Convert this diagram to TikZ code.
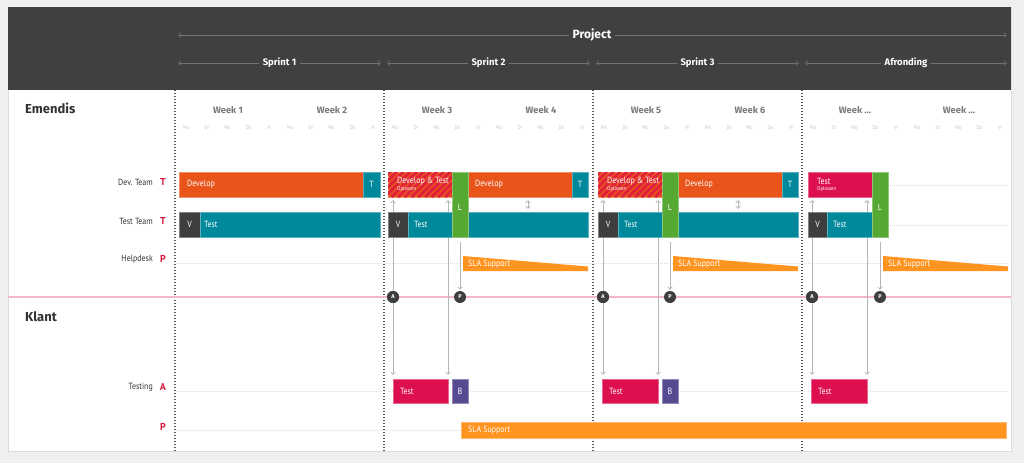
\documentclass[tikz,border=0pt]{standalone}
\usepackage{fontspec}
\setmainfont{PT Sans}
\newfontfamily\hfont{Fira Sans}
\newfontfamily\cfont[FakeStretch=0.88]{PT Sans}
\usetikzlibrary{arrows.meta,fit}
\definecolor{bgc}{HTML}{EFEFEF}
\definecolor{hdr}{HTML}{404040}
\definecolor{hline}{HTML}{727272}
\definecolor{devc}{HTML}{E8541A}
\definecolor{stripec}{HTML}{E0203C}
\definecolor{tealc}{HTML}{00889B}
\definecolor{vdark}{HTML}{3E3E3E}
\definecolor{lgreen}{HTML}{55A832}
\definecolor{crim}{HTML}{DC0F4F}
\definecolor{purp}{HTML}{584A90}
\definecolor{slac}{HTML}{FF9421}
\definecolor{pinkl}{HTML}{F4B6C9}
\definecolor{redl}{HTML}{DC143C}
\definecolor{connc}{HTML}{B5B5B5}
\definecolor{guide}{HTML}{DCDCDC}
\definecolor{dayc}{HTML}{C4C4C4}
\definecolor{weekc}{HTML}{7A7A7A}
\definecolor{divc}{HTML}{555555}
\definecolor{txtc}{HTML}{333333}
\newcommand\gb[6]{\node[blk=#6, fit={(#2,#3) (#4,#5)}] (#1) {};}
\newcommand\stripes[1]{\begin{scope}\clip (#1.north west) rectangle (#1.south east);
  \foreach \k in {0,...,16} \draw[stripec, line width=2.9pt] ([xshift=\k*6.7pt-30pt]#1.south west) -- ++(40,-40);
  \end{scope}}
\begin{document}
\begin{tikzpicture}[x=1pt,y=-1pt,
  blk/.style={inner sep=0pt, outer sep=0pt, fill=#1, draw=#1!65!white, line width=0.5pt},
  bt/.style={text=white, font=\cfont\fontsize{9}{10}\selectfont, inner sep=0pt, anchor=west},
  st/.style={text=white, font=\cfont\fontsize{5.5}{6}\selectfont, inner sep=0pt, anchor=west},
  ct/.style={text=white, font=\cfont\fontsize{9}{10}\selectfont, inner sep=0pt},
  rowlbl/.style={anchor=east, text=txtc, font=\cfont\fontsize{9}{10}\selectfont, inner sep=0pt},
  rk/.style={text=redl, font=\bfseries\fontsize{10}{11}\selectfont, inner sep=0pt},
  conn/.style={draw=connc, line width=0.7pt, {Straight Barb[length=2.5pt,width=4.5pt]}-{Straight Barb[length=2.5pt,width=4.5pt]}},
  harr/.style={draw=hline, line width=0.6pt, {Straight Barb[length=2.5pt,width=4.5pt]}-{Straight Barb[length=2.5pt,width=4.5pt]}},
  htitle/.style={fill=hdr, text=white, inner xsep=4pt, inner ysep=1pt, font=\hfont\bfseries\fontsize{#1}{#1}\selectfont},
  guideline/.style={draw=guide, line width=0.6pt, dash pattern=on 1pt off 1pt},
  divider/.style={draw=divc, line width=1.1pt, dash pattern=on 1.1pt off 1.9pt},
  badge/.style={circle, fill=vdark, text=white, inner sep=0pt, minimum size=12pt, font=\hfont\bfseries\fontsize{5.5}{6}\selectfont},
  day/.style={text=dayc, font=\cfont\fontsize{5.5}{6}\selectfont, inner sep=0pt},
  week/.style={text=weekc, font=\hfont\bfseries\fontsize{9.3}{10}\selectfont, inner sep=0pt},
  sect/.style={anchor=west, text=txtc, font=\hfont\bfseries\fontsize{13}{14}\selectfont, inner sep=0pt}
]
\useasboundingbox (0,0) rectangle (1024,463);
\fill[bgc] (0,0) rectangle (1024,463);
\filldraw[fill=white, draw=guide, line width=0.6pt] (8,7) rectangle (1011,451);
\fill[hdr] (8,7) rectangle (1011,90);
% header arrows
\coordinate (pl) at (178,35); \coordinate (pr) at (1007,35);
\draw[harr] (pl) -- (pr);
\node[htitle=12] (project) at (592,35) {Project};
\foreach \a/\b/\t [count=\n] in {178/381/Sprint 1, 387/590/Sprint 2, 596/799/Sprint 3, 805/1007/Afronding}{
  \coordinate (sl\n) at (\a,63); \coordinate (sr\n) at (\b,63);
  \draw[harr] (sl\n) -- (sr\n);
  \node[htitle=9.5] (sp\n) at ({(\a+\b)/2},63) {\t};
}
% sections
\node[sect] (emendis) at (25,108) {Emendis};
\node[sect] (klant) at (25,317) {Klant};
% weeks and days
\foreach \s/\wa/\wb [count=\n] in {175/Week 1/Week 2, 384/Week 3/Week 4, 593/Week 5/Week 6, 802/Week \dots/Week \dots}{
  \node[week] (wa\n) at (\s+53,110) {\wa};
  \node[week] (wb\n) at (\s+157,110) {\wb};
  \foreach \d [count=\i from 0] in {Ma,Di,Wo,Do,Vr,Ma,Di,Wo,Do,Vr}
    \node[day] (d\n-\i) at (\s+11+20.8*\i,128) {\d};
}
% guide lines
\foreach \y in {185,225,263,391,430} \draw[guideline] (176,\y) -- (1007,\y);
% dividers
\foreach \x in {175,384,593,802} \draw[divider] (\x,90) -- (\x,451);
% pink line
\draw[pinkl, line width=1.4pt] (8,297) -- (1011,297);
% row labels
\node[rowlbl] (ldev) at (153,182) {Dev. Team}; \node[rk] (rdev) at (163,182) {T};
\node[rowlbl] (ltest) at (153,221) {Test Team}; \node[rk] (rtest) at (163,221) {T};
\node[rowlbl] (lhelp) at (153,259) {Helpdesk}; \node[rk] (rhelp) at (163,259) {P};
\node[rowlbl] (lkt) at (153,387) {Testing}; \node[rk] (rkt) at (163,387) {A};
\node[rk] (rkp) at (163,427) {P};
% badges (positions)
\node[badge] (a2) at (393,297) {A}; \node[badge] (p2) at (460,297) {P};
\node[badge] (a3) at (603,297) {A}; \node[badge] (p3) at (670,297) {P};
\node[badge] (a4) at (812,297) {A}; \node[badge] (p4) at (880,297) {P};
% klant boxes
\gb{kt2}{393}{379}{448}{403}{crim} \gb{b2}{452}{379}{468}{403}{purp}
\gb{kt3}{602}{379}{658}{403}{crim} \gb{b3}{662}{379}{678}{403}{purp}
\gb{kt4}{811}{379}{867}{403}{crim}
\node[bt] (kt2t) at ([xshift=7pt]kt2.west) {Test};
\node[bt] (kt3t) at ([xshift=7pt]kt3.west) {Test};
\node[bt] (kt4t) at ([xshift=7pt]kt4.west) {Test};
\node[ct] (b2t) at (b2) {B}; \node[ct] (b3t) at (b3) {B};
\gb{slak}{461}{422}{1006}{438}{slac}
\node[bt] (slakt) at ([xshift=7pt]slak.west) {SLA Support};
% Emendis bars: sprint 1
\gb{dv1}{179}{172}{363}{197}{devc} \gb{t1}{363}{172}{380}{197}{tealc}
\gb{v1}{179}{212}{200}{237}{vdark} \gb{tt1}{200}{212}{380}{237}{tealc}
% sprint 2
\gb{st2}{388}{172}{452}{197}{devc}
\gb{dv2}{468}{172}{572}{197}{devc} \gb{t2}{572}{172}{588}{197}{tealc}
\gb{tb2}{468}{212}{588}{237}{tealc}
% sprint 3
\gb{st3}{598}{172}{662}{197}{devc}
\gb{dv3}{678}{172}{782}{197}{devc} \gb{t3}{782}{172}{798}{197}{tealc}
\gb{tb3}{678}{212}{798}{237}{tealc}
% sprint 4
\gb{ts4}{808}{172}{872}{197}{crim}
% connectors (behind the test-row blocks)
\foreach \n/\top in {2/st2, 3/st3, 4/ts4}{
  \draw[conn, shorten <=3pt, shorten >=4pt] (a\n |- \top.south) -- (a\n |- kt\n.north);
  \draw[conn, shorten <=3pt, shorten >=4pt] (kt\n.north east |- \top.south) -- (kt\n.north east);
}
\draw[conn, shorten <=3pt, shorten >=3pt] (tb2.north) -- (tb2.north |- dv2.south);
\draw[conn, shorten <=3pt, shorten >=3pt] (tb3.north) -- (tb3.north |- dv3.south);
% badges on top of lines
\node[badge] at (a2) {A}; \node[badge] at (a3) {A}; \node[badge] at (a4) {A};
% test rows
\gb{v2}{388}{212}{408}{237}{vdark} \gb{tt2}{408}{212}{452}{237}{tealc}
\gb{v3}{598}{212}{618}{237}{vdark} \gb{tt3}{618}{212}{662}{237}{tealc}
\gb{v4}{808}{212}{827}{237}{vdark} \gb{tt4}{827}{212}{872}{237}{tealc}
% L blocks
\gb{l2}{452}{172}{468}{237}{lgreen}
\gb{l3}{662}{172}{678}{237}{lgreen}
\gb{l4}{872}{172}{888}{237}{lgreen}
\foreach \n in {2,3,4}{
  \draw[conn, -{Straight Barb[length=2.5pt,width=4.5pt]}, shorten <=5pt, shorten >=1pt] (l\n) -- (p\n);
  \node[ct] (l\n t) at ([yshift=-3pt]l\n) {L};
}
\stripes{st2} \stripes{st3}
% texts in bars
\node[bt] (dv1t) at ([xshift=8pt]dv1.west) {Develop};
\node[ct] (t1t) at (t1) {T};
\node[ct] (v1t) at (v1) {V};
\node[bt] (tt1t) at ([xshift=4pt]tt1.west) {Test};
\foreach \n in {2,3}{
  \node[bt] (st\n t) at ([xshift=9pt,yshift=-9pt]st\n.north west) {Develop \& Test};
  \node[st] (st\n s) at ([xshift=9pt,yshift=-17pt]st\n.north west) {Oplossen};
  \node[bt] (dv\n t) at ([xshift=7pt]dv\n.west) {Develop};
  \node[ct] (t\n t) at (t\n) {T};
}
\node[bt] (ts4t) at ([xshift=9pt,yshift=-9pt]ts4.north west) {Test};
\node[st] (ts4s) at ([xshift=9pt,yshift=-17pt]ts4.north west) {Oplossen};
\foreach \n in {2,3,4}{
  \node[ct] (v\n t) at (v\n) {V};
  \node[bt] (tt\n t) at ([xshift=6pt]tt\n.west) {Test};
}
% SLA support trapezoids
\foreach \x/\n in {463/2, 673/3, 883/4}{
  \fill[slac] (\x,256) -- (\x+125,266.5) -- (\x+125,271) -- (\x,271) -- cycle;
  \node[bt] (sla\n) at (\x+5,264) {SLA Support};
}
\end{tikzpicture}
\end{document}
